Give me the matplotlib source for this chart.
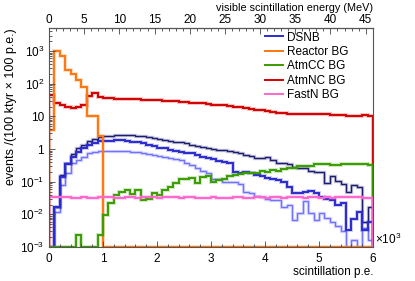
import numpy as np
import matplotlib
matplotlib.use("Agg")
import matplotlib.pyplot as plt
from matplotlib.lines import Line2D
from matplotlib.ticker import FixedLocator, FixedFormatter, MultipleLocator, LogLocator, NullFormatter

plt.rcParams['font.family'] = ['Liberation Sans', 'DejaVu Sans']
plt.rcParams['mathtext.fontset'] = 'custom'
plt.rcParams['mathtext.rm'] = 'Liberation Sans'
plt.rcParams['mathtext.it'] = 'Liberation Sans:italic'
plt.rcParams['font.size'] = 8.5

# binning: 60 bins of 100 p.e.
bin_width = 100
n_bins = 60
pe_per_mev = 130.3

# DSNB (three model variants)
dsnb_hi = [0, 0.017, 0.16, 0.37, 0.71, 1.07, 1.34, 1.82, 2.0, 2.3,
           2.5, 2.6, 2.65, 2.7, 2.7, 2.65, 2.6, 2.5, 2.35, 2.2,
           2.1, 1.95, 1.8, 1.7, 1.6, 1.5, 1.35, 1.25, 1.15, 1.1,
           1.0, 0.95, 0.92, 0.9, 0.8, 0.78, 0.66, 0.62, 0.52, 0.55,
           0.58, 0.45, 0.37, 0.37, 0.36, 0.29, 0.27, 0.26, 0.22, 0.2,
           0.2, 0.094, 0.15, 0.107, 0.085, 0.05, 0.08, 0.07, 0.006, 0.017]
dsnb = [0, 0.017, 0.14, 0.34, 0.59, 0.84, 1.07, 1.34, 1.56, 1.72,
        1.78, 1.8, 1.85, 1.85, 1.75, 1.7, 1.6, 1.5, 1.35, 1.2,
        1.1, 1.05, 0.95, 0.88, 0.82, 0.78, 0.74, 0.65, 0.58, 0.52,
        0.48, 0.42, 0.4, 0.37, 0.2, 0.19, 0.2, 0.18, 0.16, 0.15,
        0.13, 0.12, 0.115, 0.1, 0.071, 0.044, 0.045, 0.05, 0.053, 0.044,
        0.035, 0.03, 0.027, 0.02, 0.022, 0.0033, 0.007, 0.012, 0.0033, 0.006]
dsnb_lo = [0, 0.012, 0.08, 0.18, 0.37, 0.47, 0.59, 0.75, 0.84, 0.9,
           0.9, 0.9, 0.88, 0.86, 0.85, 0.84, 0.8, 0.76, 0.72, 0.68,
           0.62, 0.58, 0.55, 0.5, 0.45, 0.37, 0.33, 0.26, 0.22, 0.18,
           0.12, 0.12, 0.1, 0.1, 0.1, 0.087, 0.05, 0.045, 0.037, 0.035,
           0.03, 0.027, 0.027, 0.017, 0.019, 0.0068, 0.011, 0.025, 0.011, 0.0068,
           0.011, 0.0076, 0.006, 0.0043, 0.003, 0, 0.0016, 0, 0.0038, 0.0016]

reactor = [3.9, 980, 690, 260, 205, 130, 77, 10, 10, 2.5] + [0] * 50

atm_cc = [0, 0, 0, 0, 0, 0.0023, 0, 0, 0, 0.0023,
          0.0096, 0.022, 0.04, 0.05, 0.056, 0.042, 0.054, 0.028, 0.03, 0.045,
          0.04, 0.056, 0.07, 0.09, 0.12, 0.125, 0.13, 0.09, 0.14, 0.15,
          0.1, 0.11, 0.12, 0.15, 0.16, 0.17, 0.18, 0.19, 0.18, 0.21,
          0.2, 0.23, 0.22, 0.25, 0.26, 0.27, 0.3, 0.3, 0.3, 0.34,
          0.34, 0.34, 0.32, 0.32, 0.35, 0.35, 0.36, 0.36, 0.35, 0.33]

atm_nc = [46, 26, 22, 20, 18, 20, 23, 41, 51, 39,
          37, 36, 35, 34, 34, 33, 33, 32, 31, 31,
          31, 30, 29, 29, 28, 27, 26, 25, 25, 24,
          23, 22, 22, 21, 19, 19, 18, 17, 16, 16,
          15, 14, 13, 12.5, 12, 11.5, 12, 12, 11.5, 12,
          11.5, 11.5, 11, 11, 11, 10.5, 10.5, 10.5, 11, 10.5]

fast_n = [0.033, 0.033, 0.034, 0.033, 0.032, 0.031, 0.033, 0.032, 0.031, 0.033,
          0.034, 0.033, 0.032, 0.031, 0.033, 0.033, 0.032, 0.034, 0.033, 0.033,
          0.032, 0.033, 0.034, 0.033, 0.032, 0.033, 0.033, 0.031, 0.032, 0.032,
          0.033, 0.032, 0.031, 0.032, 0.033, 0.033, 0.032, 0.032, 0.033, 0.033,
          0.032, 0.034, 0.033, 0.032, 0.033, 0.033, 0.033, 0.032, 0.033, 0.033,
          0.032, 0.033, 0.032, 0.033, 0.034, 0.034, 0.033, 0.033, 0.032, 0.031]

labels = ['DSNB', 'Reactor BG', 'AtmCC BG', 'AtmNC BG', 'FastN BG']
colors = ['#2b2bd0', '#ff7612', '#3a9c00', '#d40000', '#ff66cc']

ymin, ymax = 1e-3, 5e3
edges = np.arange(n_bins + 1) * bin_width

fig = plt.figure(figsize=(4.15, 2.81), dpi=100)
ax = fig.add_axes([49 / 415, 1 - 247 / 281, 324 / 415, 218.7 / 281])


def draw_hist(vals, color, lw):
    v = np.asarray(vals, dtype=float)
    v = np.where(v > ymin, v, ymin)
    # light halo under each line
    ax.stairs(v, edges, baseline=ymin, color=color, lw=lw + 1.4, alpha=0.25)
    ax.stairs(v, edges, baseline=ymin, color=color, lw=lw)


draw_hist(dsnb_lo, '#7272ff', 1.0)
draw_hist(dsnb_hi, '#1c1c72', 1.0)
draw_hist(dsnb, colors[0], 1.4)
draw_hist(atm_nc, colors[3], 1.4)
draw_hist(reactor, colors[1], 1.4)
draw_hist(atm_cc, colors[2], 1.4)
draw_hist(fast_n, colors[4], 1.4)

ax.set_yscale('log')
ax.set_xlim(0, n_bins * bin_width)
ax.set_ylim(ymin, ymax)

yt = [1e-3, 1e-2, 1e-1, 1, 10, 100, 1000]
ax.yaxis.set_major_locator(FixedLocator(yt))
ax.yaxis.set_major_formatter(FixedFormatter([r'$10^{-3}$', r'$10^{-2}$', r'$10^{-1}$', '1', '10',
                                             r'$10^{2}$', r'$10^{3}$']))
ax.yaxis.set_minor_locator(LogLocator(base=10, subs=np.arange(2, 10), numticks=20))
ax.yaxis.set_minor_formatter(NullFormatter())

ax.set_xticks(np.arange(0, 6001, 1000))
ax.set_xticklabels(['0', '1', '2', '3', '4', '5', '6'])
ax.xaxis.set_minor_locator(MultipleLocator(200))

ax.tick_params(which='both', direction='in', colors='#444444', labelcolor='black', labelsize=8.5)
ax.tick_params(which='major', length=4.5, width=0.6)
ax.tick_params(which='minor', length=2.5, width=0.6)
ax.tick_params(axis='x', pad=4)
for s in ax.spines.values():
    s.set_color('#555555')
    s.set_linewidth(0.8)

ax.text(1.005, 0.0, r'$\times10^{3}$', transform=ax.transAxes, ha='left', va='bottom', fontsize=8.5)

ax.set_xlabel('scintillation p.e.', loc='right', fontsize=8.5)
ax.xaxis.set_label_coords(1.0, -0.085)
ax.set_ylabel('events /(100 ktyr \u00d7 100 p.e.)', loc='top', fontsize=9)
ax.yaxis.set_label_coords(-0.1, 1.0)

# top axis in MeV
secax = ax.secondary_xaxis('top', functions=(lambda x: x / pe_per_mev, lambda e: e * pe_per_mev))
secax.xaxis.set_major_locator(MultipleLocator(5))
secax.xaxis.set_minor_locator(MultipleLocator(1))
secax.tick_params(which='both', direction='in', colors='#444444', labelcolor='black', labelsize=8.5, pad=1.5)
secax.tick_params(which='major', length=4.5, width=0.6)
secax.tick_params(which='minor', length=2.5, width=0.6)
secax.set_xlabel('visible scintillation energy (MeV)', loc='right', fontsize=7.8, labelpad=2.5)

handles = [Line2D([], [], color=c, lw=1.4) for c in colors]
ax.legend(handles, labels, loc='upper left', bbox_to_anchor=(0.667, 0.985), frameon=False,
          handlelength=1.5, handletextpad=0.35, labelspacing=0.2, borderpad=0, borderaxespad=0,
          fontsize=8.5)

fig.savefig('out.png', dpi=100)
